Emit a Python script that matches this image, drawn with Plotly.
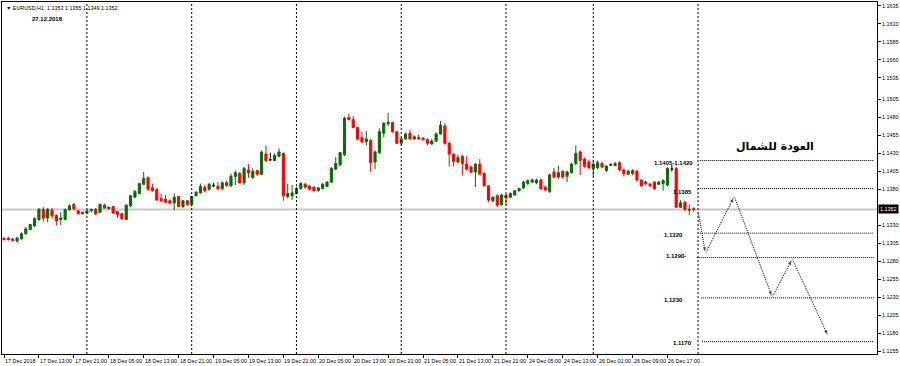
import plotly.graph_objects as go

# ---------------- data (EURUSD H1, bar index 0 = 17 Dec 2018 05:00) ----------------
opens = [1.1312, 1.1312, 1.1311, 1.1308, 1.1311, 1.1318, 1.1324, 1.1329, 1.1338, 1.1352,
         1.1340, 1.1351, 1.1344, 1.1338, 1.1338, 1.1352, 1.1359, 1.1350, 1.1346, 1.1347,
         1.1350, 1.1352, 1.1348, 1.1358, 1.1353, 1.1356, 1.1349, 1.1346, 1.1338, 1.1357,
         1.1369, 1.1374, 1.1387, 1.1396, 1.1382, 1.1380, 1.1367, 1.1366, 1.1364, 1.1361,
         1.1370, 1.1356, 1.1364, 1.1359, 1.1371, 1.1375, 1.1383, 1.1380, 1.1385, 1.1384,
         1.1381, 1.1389, 1.1385, 1.1398, 1.1402, 1.1389, 1.1407, 1.1396, 1.1406, 1.1401,
         1.1429, 1.1421, 1.1420, 1.1426, 1.1430, 1.1370, 1.1371, 1.1374, 1.1381, 1.1387,
         1.1384, 1.1383, 1.1378, 1.1381, 1.1384, 1.1390, 1.1408, 1.1414, 1.1428, 1.1480,
         1.1477, 1.1466, 1.1452, 1.1446, 1.1448, 1.1418, 1.1431, 1.1458, 1.1471, 1.1473,
         1.1460, 1.1444, 1.1450, 1.1458, 1.1450, 1.1452, 1.1451, 1.1449, 1.1443, 1.1447,
         1.1457, 1.1468, 1.1444, 1.1429, 1.1418, 1.1426, 1.1415, 1.1411, 1.1404, 1.1415,
         1.1402, 1.1385, 1.1364, 1.1371, 1.1359, 1.1372, 1.1369, 1.1372, 1.1378, 1.1382,
         1.1388, 1.1390, 1.1389, 1.1393, 1.1383, 1.1377, 1.1404, 1.1397, 1.1405, 1.1398,
         1.1403, 1.1416, 1.1432, 1.1422, 1.1418, 1.1409, 1.1410, 1.1416, 1.1406, 1.1414,
         1.1413, 1.1417, 1.1407, 1.1401, 1.1406, 1.1405, 1.1393, 1.1390, 1.1387, 1.1390,
         1.1387, 1.1388, 1.1386, 1.1408, 1.1409, 1.1355, 1.1362, 1.1351, 1.1353]
highs = [1.1313, 1.1314, 1.1312, 1.1314, 1.1320, 1.1327, 1.1332, 1.1341, 1.1354, 1.1355,
         1.1354, 1.1354, 1.1345, 1.1348, 1.1353, 1.1359, 1.1361, 1.1351, 1.1349, 1.1351,
         1.1353, 1.1354, 1.1360, 1.1360, 1.1356, 1.1357, 1.1350, 1.1347, 1.1359, 1.1372,
         1.1379, 1.1389, 1.1404, 1.1398, 1.1388, 1.1381, 1.1374, 1.1372, 1.1366, 1.1374,
         1.1371, 1.1365, 1.1365, 1.1371, 1.1377, 1.1388, 1.1386, 1.1389, 1.1389, 1.1390,
         1.1391, 1.1392, 1.1402, 1.1406, 1.1404, 1.1411, 1.1415, 1.1409, 1.1407, 1.1434,
         1.1441, 1.1431, 1.1430, 1.1437, 1.1431, 1.1388, 1.1386, 1.1383, 1.1390, 1.1389,
         1.1386, 1.1384, 1.1383, 1.1389, 1.1391, 1.1411, 1.1425, 1.1432, 1.1481, 1.1485,
         1.1482, 1.1467, 1.1460, 1.1461, 1.1450, 1.1434, 1.1465, 1.1473, 1.1486, 1.1474,
         1.1461, 1.1452, 1.1459, 1.1463, 1.1455, 1.1456, 1.1453, 1.1451, 1.1450, 1.1459,
         1.1475, 1.1472, 1.1446, 1.1430, 1.1428, 1.1428, 1.1426, 1.1413, 1.1416, 1.1422,
         1.1404, 1.1386, 1.1370, 1.1373, 1.1374, 1.1373, 1.1376, 1.1379, 1.1382, 1.1392,
         1.1394, 1.1395, 1.1395, 1.1395, 1.1385, 1.1402, 1.1410, 1.1413, 1.1406, 1.1406,
         1.1417, 1.1441, 1.1434, 1.1424, 1.1421, 1.1420, 1.1420, 1.1418, 1.1414, 1.1416,
         1.1418, 1.1419, 1.1409, 1.1407, 1.1408, 1.1407, 1.1394, 1.1392, 1.1389, 1.1391,
         1.1392, 1.1394, 1.1411, 1.1414, 1.1411, 1.1365, 1.1364, 1.1359, 1.1355]
lows = [1.1309, 1.1309, 1.1307, 1.1306, 1.1310, 1.1317, 1.1323, 1.1328, 1.1336, 1.1335,
        1.1334, 1.1339, 1.1330, 1.1330, 1.1337, 1.1350, 1.1351, 1.1345, 1.1345, 1.1346,
        1.1348, 1.1344, 1.1347, 1.1353, 1.1352, 1.1346, 1.1340, 1.1338, 1.1337, 1.1355,
        1.1368, 1.1373, 1.1386, 1.1378, 1.1377, 1.1364, 1.1362, 1.1361, 1.1359, 1.1351,
        1.1355, 1.1354, 1.1357, 1.1356, 1.1370, 1.1374, 1.1376, 1.1378, 1.1383, 1.1379,
        1.1378, 1.1384, 1.1383, 1.1386, 1.1388, 1.1386, 1.1396, 1.1395, 1.1399, 1.1400,
        1.1418, 1.1420, 1.1419, 1.1425, 1.1364, 1.1367, 1.1365, 1.1373, 1.1379, 1.1381,
        1.1379, 1.1377, 1.1377, 1.1380, 1.1383, 1.1389, 1.1407, 1.1412, 1.1426, 1.1476,
        1.1465, 1.1448, 1.1444, 1.1441, 1.1404, 1.1408, 1.1429, 1.1452, 1.1468, 1.1459,
        1.1443, 1.1442, 1.1449, 1.1449, 1.1449, 1.1449, 1.1448, 1.1441, 1.1442, 1.1446,
        1.1456, 1.1442, 1.1412, 1.1412, 1.1416, 1.1399, 1.1406, 1.1402, 1.1383, 1.1400,
        1.1384, 1.1362, 1.1362, 1.1355, 1.1357, 1.1358, 1.1368, 1.1371, 1.1377, 1.1380,
        1.1386, 1.1389, 1.1387, 1.1379, 1.1377, 1.1375, 1.1395, 1.1394, 1.1395, 1.1390,
        1.1402, 1.1413, 1.1400, 1.1410, 1.1408, 1.1398, 1.1408, 1.1410, 1.1404, 1.1413,
        1.1412, 1.1405, 1.1398, 1.1400, 1.1400, 1.1391, 1.1383, 1.1386, 1.1383, 1.1379,
        1.1386, 1.1378, 1.1384, 1.1405, 1.1354, 1.1354, 1.1350, 1.1344, 1.1349]
closes = [1.1310, 1.1310, 1.1309, 1.1312, 1.1318, 1.1325, 1.1331, 1.1339, 1.1352, 1.1340,
          1.1352, 1.1343, 1.1336, 1.1340, 1.1352, 1.1357, 1.1353, 1.1346, 1.1348, 1.1350,
          1.1352, 1.1346, 1.1359, 1.1354, 1.1355, 1.1347, 1.1345, 1.1339, 1.1358, 1.1371,
          1.1377, 1.1388, 1.1395, 1.1380, 1.1378, 1.1365, 1.1364, 1.1362, 1.1361, 1.1369,
          1.1356, 1.1364, 1.1359, 1.1370, 1.1376, 1.1384, 1.1378, 1.1387, 1.1385, 1.1381,
          1.1389, 1.1385, 1.1398, 1.1403, 1.1389, 1.1409, 1.1403, 1.1405, 1.1401, 1.1432,
          1.1420, 1.1421, 1.1427, 1.1432, 1.1371, 1.1374, 1.1375, 1.1381, 1.1388, 1.1383,
          1.1380, 1.1378, 1.1382, 1.1387, 1.1390, 1.1409, 1.1416, 1.1431, 1.1479, 1.1477,
          1.1466, 1.1450, 1.1446, 1.1450, 1.1417, 1.1432, 1.1460, 1.1472, 1.1473, 1.1460,
          1.1444, 1.1450, 1.1457, 1.1450, 1.1453, 1.1450, 1.1449, 1.1444, 1.1447, 1.1457,
          1.1469, 1.1444, 1.1429, 1.1419, 1.1424, 1.1416, 1.1408, 1.1404, 1.1415, 1.1401,
          1.1385, 1.1365, 1.1369, 1.1358, 1.1372, 1.1368, 1.1374, 1.1378, 1.1381, 1.1390,
          1.1392, 1.1393, 1.1393, 1.1381, 1.1379, 1.1400, 1.1397, 1.1403, 1.1397, 1.1404,
          1.1415, 1.1430, 1.1420, 1.1412, 1.1410, 1.1415, 1.1417, 1.1411, 1.1412, 1.1414,
          1.1416, 1.1407, 1.1402, 1.1405, 1.1402, 1.1393, 1.1385, 1.1388, 1.1385, 1.1381,
          1.1390, 1.1392, 1.1409, 1.1408, 1.1355, 1.1361, 1.1352, 1.1352, 1.1352]

separator_bars = [19, 43, 67, 91, 115, 135, 159]
xtick_bars = [0, 8, 16, 24, 32, 40, 48, 56, 64, 72, 80, 88, 96, 104, 112, 120, 128, 136, 144, 152]
xtick_labels = ["17 Dec 2018", "17 Dec 13:00", "17 Dec 21:00", "18 Dec 05:00", "18 Dec 13:00",
                "18 Dec 21:00", "19 Dec 05:00", "19 Dec 13:00", "19 Dec 21:00", "20 Dec 05:00",
                "20 Dec 13:00", "20 Dec 21:00", "21 Dec 05:00", "21 Dec 13:00", "21 Dec 21:00",
                "24 Dec 05:00", "24 Dec 13:00", "26 Dec 01:00", "26 Dec 09:00", "26 Dec 17:00"]
ytick_vals = [1.1635, 1.1610, 1.1585, 1.1560, 1.1535, 1.1505, 1.1480, 1.1455, 1.1430, 1.1405,
              1.1380, 1.1330, 1.1305, 1.1280, 1.1255, 1.1230, 1.1205, 1.1180, 1.1155]
last_price = 1.1352

level_prices = [1.1420, 1.1381, 1.1319, 1.1285, 1.1229, 1.1168]
level_starts = [159.4, 159.0, 159.4, 158.7, 159.7, 159.9]
label_texts = ["1.1405-1.1420", "1.1385", "1.1320", "1.1290-", "1.1230", "1.1170"]
label_prices = [1.14172, 1.13756, 1.13160, 1.12869, 1.12258, 1.11662]
label_bars = [158.2, 158.0, 155.9, 156.6, 156.1, 158.1]

path_bars = [159.1, 160.7, 167.3, 176.0, 180.6, 188.8]
path_prices = [1.13465, 1.12910, 1.13700, 1.12300, 1.12830, 1.11760]

title_text = "العودة للشمال"

# ---------------- figure ----------------
idx = list(range(len(opens)))
normal = [i for i in idx if opens[i] != closes[i]]
doji = [i for i in idx if opens[i] == closes[i]]

fig = go.Figure()
fig.add_trace(go.Candlestick(
    x=normal,
    open=[opens[i] for i in normal], high=[highs[i] for i in normal],
    low=[lows[i] for i in normal], close=[closes[i] for i in normal],
    increasing=dict(line=dict(color="#0a6a0a", width=1), fillcolor="#0a6a0a"),
    decreasing=dict(line=dict(color="#ff0000", width=1), fillcolor="#ff0000"),
    whiskerwidth=0, showlegend=False, hoverinfo="skip"))
fig.add_trace(go.Candlestick(
    x=doji,
    open=[opens[i] for i in doji], high=[highs[i] for i in doji],
    low=[lows[i] for i in doji], close=[closes[i] for i in doji],
    increasing=dict(line=dict(color="#000000", width=1), fillcolor="#000000"),
    decreasing=dict(line=dict(color="#000000", width=1), fillcolor="#000000"),
    whiskerwidth=0, showlegend=False, hoverinfo="skip"))

# forecast path with arrowheads
fig.add_trace(go.Scatter(
    x=path_bars, y=path_prices, mode="lines+markers",
    line=dict(color="#000000", width=1, dash="1px,1px"),
    marker=dict(symbol="arrow", angleref="previous", color="#000000",
                size=[0, 7, 7, 7, 7, 7]),
    showlegend=False, hoverinfo="skip"))

shapes = []
# current price line
shapes.append(dict(type="line", xref="paper", x0=0, x1=1, yref="y", y0=last_price, y1=last_price,
                   line=dict(color="#c4c8cc", width=2), layer="below"))
# day separators
for b in separator_bars:
    shapes.append(dict(type="line", xref="x", x0=b, x1=b, yref="paper", y0=0, y1=1,
                       line=dict(color="#000000", width=1, dash="2px,2px")))
# level lines
for p, s in zip(level_prices, level_starts):
    shapes.append(dict(type="line", xref="x", x0=s, x1=199.3, yref="y", y0=p, y1=p,
                       line=dict(color="#000000", width=1, dash="1px,1px")))

annotations = []
for t, b in zip(xtick_labels, xtick_bars):
    annotations.append(dict(x=b, xref="x", y=0, yref="paper", yshift=-2, xshift=-1, text=t,
                            showarrow=False, xanchor="left", yanchor="top",
                            font=dict(family="Liberation Sans", size=5.4, color="#000000")))
for t, p, b in zip(label_texts, label_prices, label_bars):
    annotations.append(dict(x=b, xref="x", y=p, yref="y", text="<b>%s</b>" % t,
                            showarrow=False, xanchor="right", yanchor="middle",
                            font=dict(family="Liberation Sans", size=6, color="#000000")))
annotations.append(dict(x=1, xref="paper", y=last_price, yref="y", text="1.1352",
                        showarrow=False, xanchor="left", yanchor="middle", xshift=1,
                        bgcolor="#000000", borderpad=1,
                        font=dict(family="Liberation Sans", size=5.4, color="#ffffff")))
annotations.append(dict(x=176.7, xref="x", y=1.14394, yref="y", text="<b>%s</b>" % title_text,
                        showarrow=False, xanchor="center", yanchor="middle",
                        font=dict(family="DejaVu Sans", size=11, color="#000000")))
annotations.append(dict(x=0, xref="paper", y=1, yref="paper", xshift=2, yshift=-1,
                        text="▼ EURUSD,H1  1.1353 1.1355 1.1349 1.1352",
                        showarrow=False, xanchor="left", yanchor="top",
                        font=dict(family="Liberation Sans", size=5.4, color="#000000")))
annotations.append(dict(x=0, xref="paper", y=1, yref="paper", xshift=28, yshift=-12,
                        text="<b>27.12.2018</b>",
                        showarrow=False, xanchor="left", yanchor="top",
                        font=dict(family="Liberation Sans", size=6, color="#000000")))

fig.update_layout(
    width=900, height=366,
    margin=dict(l=1, r=22, t=1, b=12),
    paper_bgcolor="#ffffff", plot_bgcolor="#ffffff",
    shapes=shapes, annotations=annotations,
    xaxis=dict(range=[-0.46, 200], showgrid=False, zeroline=False,
               showline=True, linecolor="#000000", linewidth=1, mirror=True,
               tickvals=xtick_bars, showticklabels=False, ticks="outside",
               ticklen=3, tickcolor="#000000", rangeslider=dict(visible=False)),
    yaxis=dict(range=[1.11509, 1.16405], side="right", showgrid=False, zeroline=False,
               showline=True, linecolor="#000000", linewidth=1, mirror=True,
               tickvals=ytick_vals, ticktext=["%.4f" % v for v in ytick_vals],
               ticks="outside", ticklen=3, tickcolor="#000000",
               tickfont=dict(family="Liberation Sans", size=5.4, color="#000000")),
)

fig.write_html("out.html")
